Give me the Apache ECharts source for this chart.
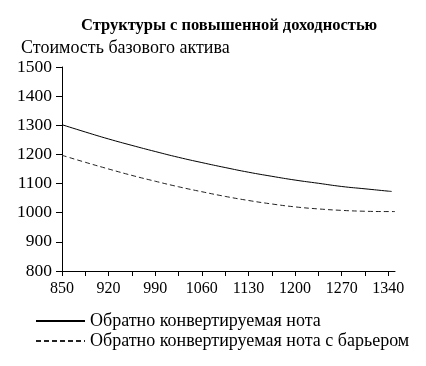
<!DOCTYPE html>
<html>
<head>
<meta charset="utf-8">
<script src="https://cdn.jsdelivr.net/npm/echarts@6/dist/echarts.min.js"></script>
<style>html,body{margin:0;padding:0;background:#fff}#c{width:426px;height:366px}</style>
</head>
<body>
<div id="c"></div>
<script>
var xValues = [850, 885, 920, 955, 990, 1025, 1060, 1095, 1130, 1165, 1200, 1235, 1270, 1305, 1340, 1345];
var seriesNote = [1302, 1277, 1253, 1231, 1210, 1190, 1172, 1155, 1139, 1125, 1112, 1101, 1090, 1082, 1074, 1073];
var xValuesBarrier = [850, 885, 920, 955, 990, 1025, 1060, 1095, 1130, 1165, 1200, 1235, 1270, 1305, 1340, 1350];
var seriesBarrier = [1197, 1173, 1150, 1128, 1108, 1089, 1072, 1056, 1042, 1030, 1020, 1013, 1008, 1005, 1004, 1004];
var xTickValues = [850, 885, 920, 955, 990, 1025, 1060, 1095, 1130, 1165, 1200, 1235, 1270, 1305, 1340];
var xLabelValues = [850, 920, 990, 1060, 1130, 1200, 1270, 1340];
var seriesNames = ['Обратно конвертируемая нота', 'Обратно конвертируемая нота с барьером'];
var titleText = 'Структуры с повышенной доходностью';
var yAxisTitle = 'Стоимость базового актива';

var FONT = "'Liberation Serif', 'Times New Roman', serif";
function pairs(xs, ys) { return xs.map(function (x, i) { return [x, ys[i]]; }); }
function plain(v) { return String(v); }

var chart = echarts.init(document.getElementById('c'), null, {renderer: 'canvas'});
chart.setOption({
  animation: false,
  backgroundColor: '#fff',
  title: [
    {text: titleText, left: 76, top: 12,
     textStyle: {fontFamily: FONT, fontSize: 16.5, fontWeight: 'bold', color: '#000'}},
    {text: yAxisTitle, left: 16, top: 34,
     textStyle: {fontFamily: FONT, fontSize: 18, fontWeight: 'normal', color: '#000'}}
  ],
  grid: {left: 62, right: 31, top: 67, bottom: 95, containLabel: false},
  xAxis: {
    type: 'value', min: 850, max: 1350, interval: 35,
    axisLine: {lineStyle: {color: '#000', width: 1}},
    axisTick: {show: true, length: 5, customValues: xTickValues, lineStyle: {color: '#000'}},
    axisLabel: {customValues: xLabelValues, margin: 10, fontFamily: FONT, fontSize: 16, color: '#000', formatter: plain},
    splitLine: {show: false}
  },
  yAxis: {
    type: 'value', min: 800, max: 1500, interval: 100,
    axisLine: {show: true, lineStyle: {color: '#000', width: 1}},
    axisTick: {show: true, length: 6, lineStyle: {color: '#000'}},
    axisLabel: {margin: 10, fontFamily: FONT, fontSize: 17.5, color: '#000', formatter: plain},
    splitLine: {show: false}
  },
  legend: {
    orient: 'vertical', left: 35, top: 312, padding: 0, itemWidth: 49, itemHeight: 14, itemGap: 2,
    itemStyle: {opacity: 0},
    textStyle: {fontFamily: FONT, fontSize: 18, color: '#000'},
    data: seriesNames
  },
  series: [
    {name: seriesNames[0], type: 'line', smooth: true, symbol: 'none',
     lineStyle: {color: '#000', width: 1}, itemStyle: {color: '#000'},
     data: pairs(xValues, seriesNote)},
    {name: seriesNames[1], type: 'line', smooth: true, symbol: 'none',
     lineStyle: {color: '#222', width: 1, type: [5, 3]}, itemStyle: {color: '#222'},
     data: pairs(xValuesBarrier, seriesBarrier)}
  ]
});
</script>
</body>
</html>
